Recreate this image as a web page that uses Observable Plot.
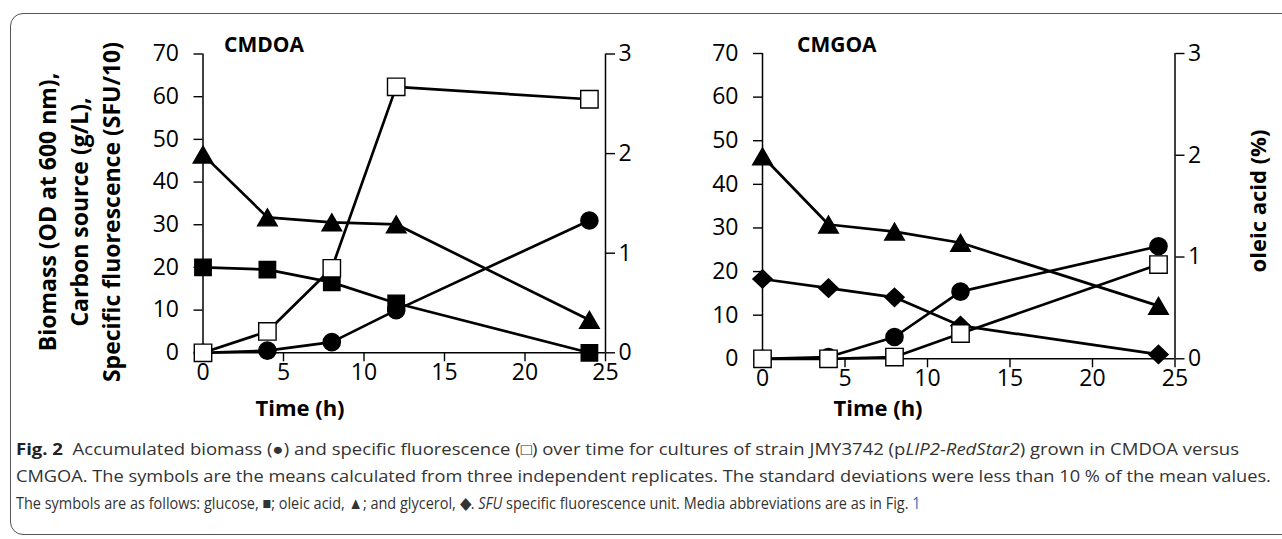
<!DOCTYPE html>
<html>
<head>
<meta charset="utf-8">
<script src="https://cdn.jsdelivr.net/npm/d3@7"></script>
<script src="https://cdn.jsdelivr.net/npm/@observablehq/plot@0.6"></script>
<style>
  html, body { margin: 0; padding: 0; background: #fff; }
  #fig { position: relative; width: 1282px; height: 539px; overflow: hidden; background: #fff; }
  #fig .panel { position: absolute; top: 0; }
  #frame { position: absolute; left: 10px; top: 13px; width: 1290px; height: 522px;
           border: 1.3px solid #555; border-radius: 13px; box-sizing: border-box; }
  #overlay { position: absolute; left: 0; top: 0; pointer-events: none; }
</style>
</head>
<body>
<div id="fig">
  <div id="frame"></div>
  <div id="p1" class="panel" style="left:0px"></div>
  <div id="p2" class="panel" style="left:641px"></div>
  <svg id="overlay" width="1282" height="539"></svg>
</div>
<script>
// ---------- data ----------
const time = [0, 4, 8, 12, 24];
const xTicks = [0, 5, 10, 15, 20, 25];
const leftTicks = [0, 10, 20, 30, 40, 50, 60, 70];
const rightTicks = [0, 1, 2, 3];

// CMDOA (left axis units unless noted)
const cmdoaBiomass = [0, 0.5, 2.5, 10, 31];
const cmdoaSFU = [0, 5, 19.8, 62.3, 59.4];
const cmdoaGlucose = [20, 19.5, 16.5, 11.6, 0];
const cmdoaOleic = [1.99, 1.36, 1.31, 1.29, 0.33]; // % (right axis)

// CMGOA
const cmgoaBiomass = [0, 0.4, 5, 15.4, 25.8];
const cmgoaSFU = [0, 0, 0.4, 5.8, 21.6];
const cmgoaGlycerol = [18.3, 16.2, 14.1, 7.6, 1.0];
const cmgoaOleic = [1.99, 1.32, 1.25, 1.14, 0.52]; // % (right axis)

const panelTitles = ["CMDOA", "CMGOA"];
const yLabelLines = ["Biomass (OD at 600 nm),", "Carbon source (g/L),", "Specific fluorescence (SFU/10)"];
const xLabel = "Time (h)";
const rightLabel = "oleic acid (%)";

// ---------- helpers ----------
const K = 70 / 3; // right axis (0-3 %) onto left axis (0-70)
const sym = (fn) => ({ draw(ctx, size) { fn(ctx, Math.sqrt(size / Math.PI)); } });
const circleSym = sym((c, r) => { c.moveTo(r, 0); c.arc(0, 0, r, 0, 2 * Math.PI); });
const squareSym = sym((c, r) => { c.rect(-r, -r, 2 * r, 2 * r); });
const triSym = sym((c, r) => { const h = r * Math.sqrt(3); c.moveTo(0, -h / 2); c.lineTo(r, h / 2); c.lineTo(-r, h / 2); c.closePath(); });
const diaSym = sym((c, r) => { c.moveTo(0, -r * 0.95); c.lineTo(r, 0); c.lineTo(0, r * 0.95); c.lineTo(-r, 0); c.closePath(); });

const rows = (vals, scale = 1) => time.map((t, i) => ({ t, v: vals[i] * scale }));

function series(vals, symbol, r, fill, scale = 1) {
  const d = rows(vals, scale);
  return [
    Plot.line(d, { x: "t", y: "v", stroke: "#000", strokeWidth: 2.7 }),
    Plot.dot(d, { x: "t", y: "v", symbol, r, fill, stroke: "#000", strokeWidth: 1.4 })
  ];
}

function panel(opts, lines, dots) {
  return Plot.plot({
    width: 641, height: 430,
    marginLeft: opts.ml, marginRight: opts.mr, marginTop: opts.mt, marginBottom: opts.mb,
    style: { fontFamily: "'Open Sans', sans-serif", fontSize: "23px", color: "#000", background: "transparent", overflow: "visible" },
    x: { domain: [0, 25] },
    y: { domain: [0, 70] },
    marks: [
      Plot.axisX({ ticks: xTicks, tickSize: 9, tickPadding: 2, label: null, fontSize: 23, strokeWidth: 1.4 }),
      Plot.axisY({ ticks: leftTicks, tickSize: 9, tickPadding: 15, label: null, fontSize: 23, anchor: "left", strokeWidth: 1.4 }),
      Plot.axisY(rightTicks.map(v => v * K), { anchor: "right", tickSize: 9, tickPadding: 4, label: null, fontSize: 23,
        tickFormat: d => String(Math.round(d / K)), strokeWidth: 1.4 }),
      Plot.ruleX([0], { stroke: "#000", strokeWidth: 1.5 }),
      Plot.ruleX([25], { stroke: "#000", strokeWidth: 1.5 }),
      Plot.ruleY([0], { stroke: "#000", strokeWidth: 1.5 }),
      ...lines,
      ...dots
    ]
  });
}

function build(specs) {
  const lines = [], dots = [];
  for (const s of specs) { const [l, d] = series(...s); lines.push(l); dots.push(d); }
  return [lines, dots];
}

// Left panel CMDOA
const [l1, d1] = build([
  [cmdoaOleic, triSym, 9.8, "#000", K],
  [cmdoaGlucose, squareSym, 8.2, "#000"],
  [cmdoaBiomass, circleSym, 8.6, "#000"],
  [cmdoaSFU, squareSym, 8.7, "#fff"]
]);
document.getElementById("p1").append(panel({ ml: 202.5, mr: 36, mt: 53.5, mb: 77.7 }, l1, d1));

// Right panel CMGOA
const [l2, d2] = build([
  [cmgoaOleic, triSym, 9.8, "#000", K],
  [cmgoaGlycerol, diaSym, 9.6, "#000"],
  [cmgoaBiomass, circleSym, 8.6, "#000"],
  [cmgoaSFU, squareSym, 8.7, "#fff"]
]);
document.getElementById("p2").append(panel({ ml: 121, mr: 107.5, mt: 53, mb: 71.7 }, l2, d2));

// ---------- overlay text ----------
const svg = d3.select("#overlay");
const bold = "'Open Sans', sans-serif";
const boldText = (x, y, s, size, anchor = "start") => svg.append("text").attr("x", x).attr("y", y)
  .attr("font-family", bold).attr("font-weight", 700).attr("font-size", size).attr("text-anchor", anchor).text(s);

boldText(224, 52, panelTitles[0], 21);
boldText(797, 52, panelTitles[1], 21);

// y label (3 lines rotated)
const yl = svg.append("text").attr("transform", "translate(0,212) rotate(-90)")
  .attr("font-family", bold).attr("font-weight", 700).attr("font-size", 23).attr("text-anchor", "middle");
yLabelLines.forEach((s, i) => yl.append("tspan").attr("x", 0).attr("y", 56 + i * 32).text(s));

svg.append("text").attr("transform", "translate(1266,201) rotate(-90)")
  .attr("font-family", bold).attr("font-weight", 700).attr("font-size", 22).attr("text-anchor", "middle").text(rightLabel);

boldText(300, 416, xLabel, 22, "middle");
boldText(878, 416, xLabel, 22, "middle");

// caption (each line condensed horizontally to its measured width in the figure)
const capFont = "'Open Sans', sans-serif";
const capColor = "#333";
const capLines = [
  { y: 455, len: 1224, parts: [["Fig. 2", "b"], ["  Accumulated biomass (●) and specific fluorescence (□) over time for cultures of strain JMY3742 (p"], ["LIP2-RedStar2", "i"], [") grown in CMDOA versus"]] },
  { y: 482, len: 1256, parts: [["CMGOA. The symbols are the means calculated from three independent replicates. The standard deviations were less than 10 % of the mean values."]] },
  { y: 509, len: 905, parts: [["The symbols are as follows: glucose, ■; oleic acid, ▲; and glycerol, ◆. "], ["SFU", "i"], [" specific fluorescence unit. Media abbreviations are as in Fig. "], ["1", "link"]] }
];
for (const ln of capLines) {
  const t = svg.append("text").attr("x", 0).attr("y", 0)
    .attr("font-family", capFont).attr("font-size", 16.5)
    .attr("fill", capColor).attr("xml:space", "preserve");
  for (const [s, st] of ln.parts) {
    const sp = t.append("tspan").text(s);
    if (st === "b") sp.attr("font-weight", 700).attr("fill", "#222");
    if (st === "i") sp.attr("font-style", "italic");
    if (st === "link") sp.attr("fill", "#2a6ebb");
  }
  const natural = t.node().getComputedTextLength();
  const k = natural > 0 ? ln.len / natural : 1;
  t.attr("transform", `translate(16,${ln.y}) scale(${k},1)`);
}
</script>
</body>
</html>
